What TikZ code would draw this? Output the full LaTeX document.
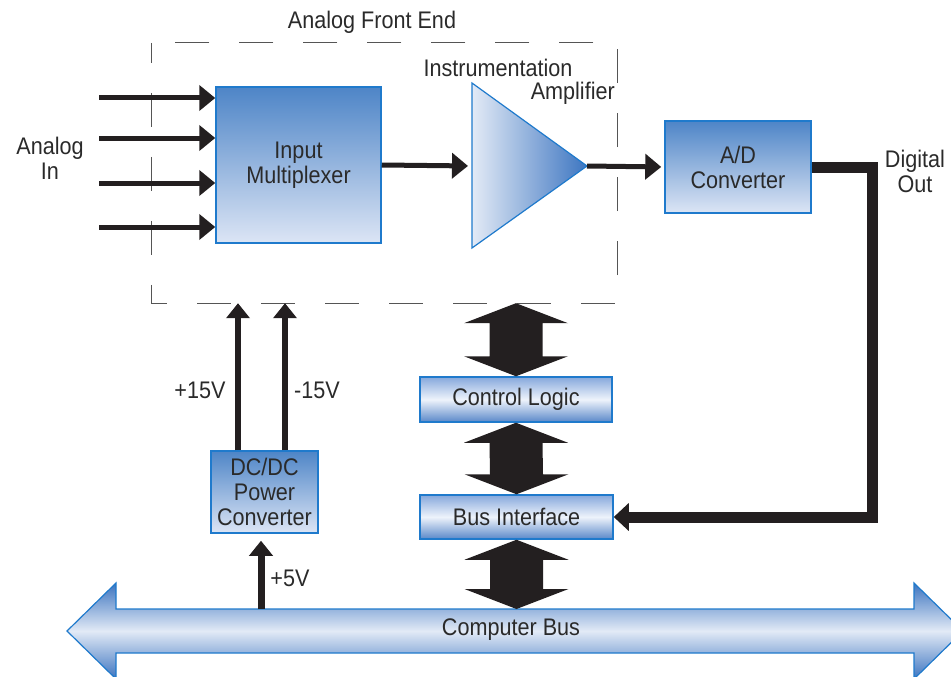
\documentclass[tikz,border=0pt]{standalone}
\usepackage{fontspec}
\setmainfont{Liberation Sans}[FakeStretch=0.9]
\usetikzlibrary{positioning}
\usetikzlibrary{calc}
\usetikzlibrary{arrows.meta}

\definecolor{boxblue}{HTML}{1F7ACC}
\definecolor{blocktop}{HTML}{4E85C7}
\definecolor{blockbot}{HTML}{DCE5F5}
\definecolor{bartop}{HTML}{86A8DC}
\definecolor{barmid}{HTML}{EEF3FB}
\definecolor{barbot}{HTML}{5A88C9}
\definecolor{ampleft}{HTML}{E3EAF6}
\definecolor{ampright}{HTML}{3D76C1}
\definecolor{busedge}{HTML}{3C74C0}
\definecolor{busmid}{HTML}{E2EAF6}
\definecolor{inkblack}{HTML}{231F20}
\definecolor{dashgray}{HTML}{555555}
\definecolor{textgray}{HTML}{2A2A2A}

\tikzset{
  blockbox/.style={draw=boxblue, line width=1.5pt, top color=blocktop, bottom color=blockbot, text=textgray, align=center, inner sep=0pt},
  barbox/.style={draw=boxblue, line width=1.5pt, top color=bartop, bottom color=barbot, middle color=barmid, text=textgray, inner sep=0pt},
  lbl/.style={text=textgray, align=center, inner sep=0pt},
  afebox/.style={draw=dashgray, line width=1.3pt, dash pattern=on 34pt off 30pt, dash phase=14pt},
  ampshape/.style={draw=boxblue, line width=1.2pt, left color=ampleft, right color=ampright},
  busarrow/.style={draw=boxblue, line width=1.2pt, top color=busedge, bottom color=busedge, middle color=busmid},
  sigarrow/.style={draw=inkblack, line width=5pt, -{Triangle[length=16pt,width=25pt]}},
  powarrow/.style={draw=inkblack, line width=6pt, -{Triangle[length=15pt,width=23pt]}},
  busline/.style={draw=inkblack, line width=11pt, line join=miter, -{Triangle[length=15pt,width=27pt]}},
  fatfill/.style={fill=inkblack}
}

% fat double arrow from top point #1 to bottom point #2
\newcommand\fatarrow[2]{%
  \fill[fatfill] (#1) -- ++(52,20) -- ++(-25.5,0) -- ($(#2)+(26.5,-20)$) -- ++(25.5,0) -- (#2)
    -- ++(-52,-20) -- ++(25.5,0) -- ($(#1)+(-26.5,20)$) -- ++(-25.5,0) -- cycle;}

\begin{document}
\begin{tikzpicture}[x=1pt, y=-1pt, font=\fontsize{24}{25}\selectfont]
\useasboundingbox (0,0) rectangle (951,677);

% analog front end
\node[minimum width=465pt, minimum height=260pt, inner sep=0pt] (afe) at (384.5,173) {};
\draw[afebox] (afe.north west) -- (afe.south west) -- (afe.south east) -- (afe.north east) -- cycle;
\node[lbl] (afetitle) at (372,22) {Analog Front End};

% computer bus
\draw[busarrow] (67,631) -- (116,583) -- (116,609) -- (914,609) -- (914,583) -- (963,631)
  -- (914,679) -- (914,653) -- (116,653) -- (116,679) -- cycle;
\node[lbl] (bus) at (511,630) {Computer Bus};

% blocks
\node[blockbox, minimum width=165pt, minimum height=156pt] (mux) at (298.5,165) {Input\\Multiplexer};
\node[blockbox, minimum width=146pt, minimum height=92pt] (ad) at (738,167) {A/D\\Converter};
\node[blockbox, minimum width=107pt, minimum height=82pt] (dcdc) at (264.5,492) {DC/DC\\Power\\Converter};
\node[barbox, minimum width=192pt, minimum height=45pt] (ctrl) at (516,399.5) {Control Logic};
\node[barbox, minimum width=193pt, minimum height=44pt] (busif) at (516.5,517) {Bus Interface};

% amplifier
\coordinate (ampin) at (472,166);
\coordinate (ampout) at (587,166);
\draw[ampshape] (472,83) -- (ampout) -- (472,248) -- cycle;
\node[lbl] (instlbl) at (498,68) {Instrumentation};
\node[lbl, anchor=east] (amplbl) at (615,93) {Amplifier};

% analog inputs
\foreach \y [count=\i] in {98,138,183,227} {
  \coordinate (in\i) at (99,\y);
  \draw[sigarrow] (in\i) -- (in\i -| mux.west);
}
\node[lbl] (ainlbl) at (50,158) {Analog\\In};

\draw[sigarrow, shorten >=4pt] (mux.east) -- (ampin);
\draw[sigarrow, shorten >=3pt] (ampout) -- (ad.west);

% digital out
\coordinate (dturn) at (872,167);
\draw[busline] (ad.east) -- (dturn) |- (busif.east);
\node[lbl] (doutlbl) at (915,171) {Digital\\Out};

% power
\coordinate (vp) at ([xshift=-26.5pt]dcdc.north);
\coordinate (vn) at ([xshift=20.5pt]dcdc.north);
\draw[powarrow] (vp) -- (vp |- afe.south);
\draw[powarrow] (vn) -- (vn |- afe.south);
\node[lbl] (vplbl) at (200,390) {+15V};
\node[lbl] (vnlbl) at (317,390) {-15V};
\coordinate (bustop) at (261,609);
\draw[powarrow, line width=7pt, shorten >=7pt] (bustop) -- (bustop |- dcdc.south);
\node[lbl] (v5lbl) at (290,578) {+5V};

% data paths
\coordinate (f1) at (ctrl.north |- afe.south);
\fatarrow{f1}{ctrl.north}
\fatarrow{ctrl.south}{busif.north}
\coordinate (f3) at (busif.south |- bustop);
\fatarrow{busif.south}{f3}
\end{tikzpicture}
\end{document}
